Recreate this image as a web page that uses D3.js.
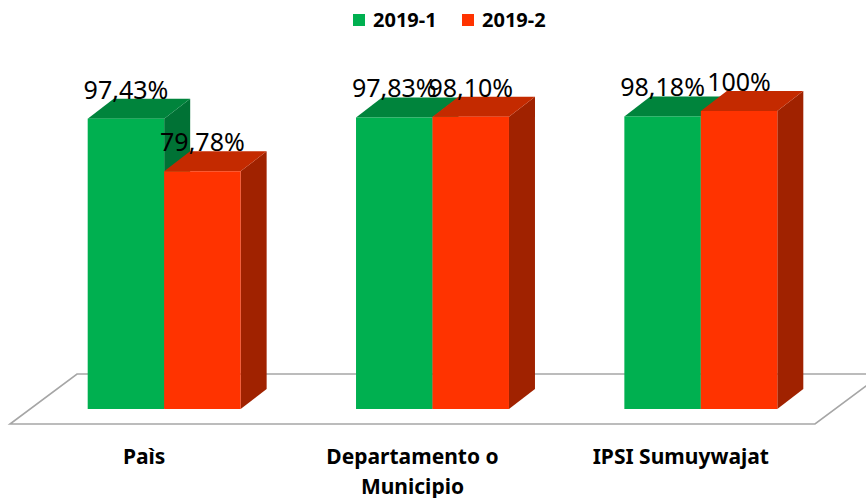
<!DOCTYPE html>
<html>
<head>
<meta charset="utf-8">
<script src="https://cdn.jsdelivr.net/npm/d3@7"></script>
<style>
  body { margin: 0; background: #fff; }
  svg { display: block; font-family: "Noto Sans", sans-serif; }
</style>
</head>
<body>
<svg width="866" height="498"></svg>
<script>
// chart data
var categories = ["Paìs", "Departamento o Municipio", "IPSI Sumuywajat"];
var seriesNames = ["2019-1", "2019-2"];
var values2019_1 = [97.43, 97.83, 98.18];
var values2019_2 = [79.78, 98.10, 100];

var svg = d3.select("svg"),
    width = +svg.attr("width"),
    height = +svg.attr("height");

// colours per series: front, top, side
var colours = {
    "2019-1": { front: "#00b050", top: "#00843c", side: "#007235" },
    "2019-2": { front: "#ff3300", top: "#c42a00", side: "#a02200" }
};

// floor geometry (front edge + depth)
var floorY = 424, floorDx = 67, floorDy = -50;
// bars sit in the middle of the floor depth
var barOffX = 20, barOffY = -15;
var depthX = 26, depthY = -20;

var x = d3.scaleBand()
    .domain(categories)
    .range([10, 815])
    .padding(0);

var groupWidth = x.bandwidth() * 0.57;
var xSeries = d3.scaleBand()
    .domain(seriesNames)
    .range([0, groupWidth]);

var y = d3.scaleLinear()
    .domain([0, 100])
    .range([floorY + barOffY, floorY + barOffY - 298]);

var data = [];
categories.forEach(function (c, i) {
    data.push({ cat: c, series: "2019-1", value: values2019_1[i] });
    data.push({ cat: c, series: "2019-2", value: values2019_2[i] });
});

// floor
var x0 = x.range()[0], x1 = x.range()[1];
svg.append("polygon")
    .attr("points", [
        [x0, floorY], [x1, floorY],
        [x1 + floorDx, floorY + floorDy], [x0 + floorDx, floorY + floorDy]
    ].map(function (p) { return p.join(","); }).join(" "))
    .attr("fill", "#fff")
    .attr("stroke", "#a6a6a6")
    .attr("stroke-width", 1.6);

// bars
var bars = svg.append("g").attr("class", "bars")
    .selectAll("g")
    .data(data)
    .enter().append("g");

function barGeom(d) {
    var left = x(d.cat) + (x.bandwidth() - groupWidth) / 2 + barOffX + xSeries(d.series);
    var right = left + xSeries.bandwidth();
    var top = y(d.value), bottom = y(0);
    return { left: left, right: right, top: top, bottom: bottom };
}

function pts(arr) {
    return arr.map(function (p) { return p.join(","); }).join(" ");
}

bars.append("polygon")
    .attr("points", function (d) {
        var g = barGeom(d);
        return pts([[g.right, g.top], [g.right + depthX, g.top + depthY],
                    [g.right + depthX, g.bottom + depthY], [g.right, g.bottom]]);
    })
    .attr("fill", function (d) { return colours[d.series].side; });

bars.append("polygon")
    .attr("points", function (d) {
        var g = barGeom(d);
        return pts([[g.left, g.top], [g.right, g.top],
                    [g.right + depthX, g.top + depthY], [g.left + depthX, g.top + depthY]]);
    })
    .attr("fill", function (d) { return colours[d.series].top; });

bars.append("rect")
    .attr("x", function (d) { return barGeom(d).left; })
    .attr("y", function (d) { return barGeom(d).top; })
    .attr("width", xSeries.bandwidth())
    .attr("height", function (d) { var g = barGeom(d); return g.bottom - g.top; })
    .attr("fill", function (d) { return colours[d.series].front; });

// value labels
function fmt(v) {
    return v === 100 ? "100%" : v.toFixed(2).replace(".", ",") + "%";
}

svg.append("g").attr("class", "labels")
    .selectAll("text")
    .data(data)
    .enter().append("text")
    .attr("x", function (d) { var g = barGeom(d); return (g.left + g.right) / 2; })
    .attr("y", function (d) { return barGeom(d).top + depthY; })
    .attr("text-anchor", "middle")
    .attr("font-size", 25)
    .attr("fill", "#000")
    .text(function (d) { return fmt(d.value); });

// category labels (wrapped)
var catLabels = svg.append("g").attr("class", "categories")
    .selectAll("text")
    .data(categories)
    .enter().append("text")
    .attr("x", function (d) { return x(d) + x.bandwidth() / 2; })
    .attr("y", 464)
    .attr("text-anchor", "middle")
    .attr("font-size", 21)
    .attr("font-weight", "bold")
    .attr("fill", "#000");

catLabels.each(function (d) {
    var text = d3.select(this),
        words = d.split(" "),
        line = [],
        cx = text.attr("x"),
        tspan = text.append("tspan").attr("x", cx).attr("dy", 0);
    words.forEach(function (w) {
        line.push(w);
        tspan.text(line.join(" "));
        if (tspan.node().getComputedTextLength() > 235 && line.length > 1) {
            line.pop();
            tspan.text(line.join(" "));
            line = [w];
            tspan = text.append("tspan").attr("x", cx).attr("dy", 30).text(w);
        }
    });
});

// legend
var legend = svg.append("g").attr("class", "legend")
    .selectAll("g")
    .data(seriesNames)
    .enter().append("g")
    .attr("transform", function (d, i) { return "translate(" + (353 + i * 109) + ",0)"; });

legend.append("rect")
    .attr("x", 0)
    .attr("y", 14)
    .attr("width", 12)
    .attr("height", 12)
    .attr("fill", function (d) { return colours[d].front; });

legend.append("text")
    .attr("x", 20)
    .attr("y", 27)
    .attr("font-size", 20)
    .attr("font-weight", "bold")
    .attr("fill", "#000")
    .text(function (d) { return d; });
</script>
</body>
</html>
